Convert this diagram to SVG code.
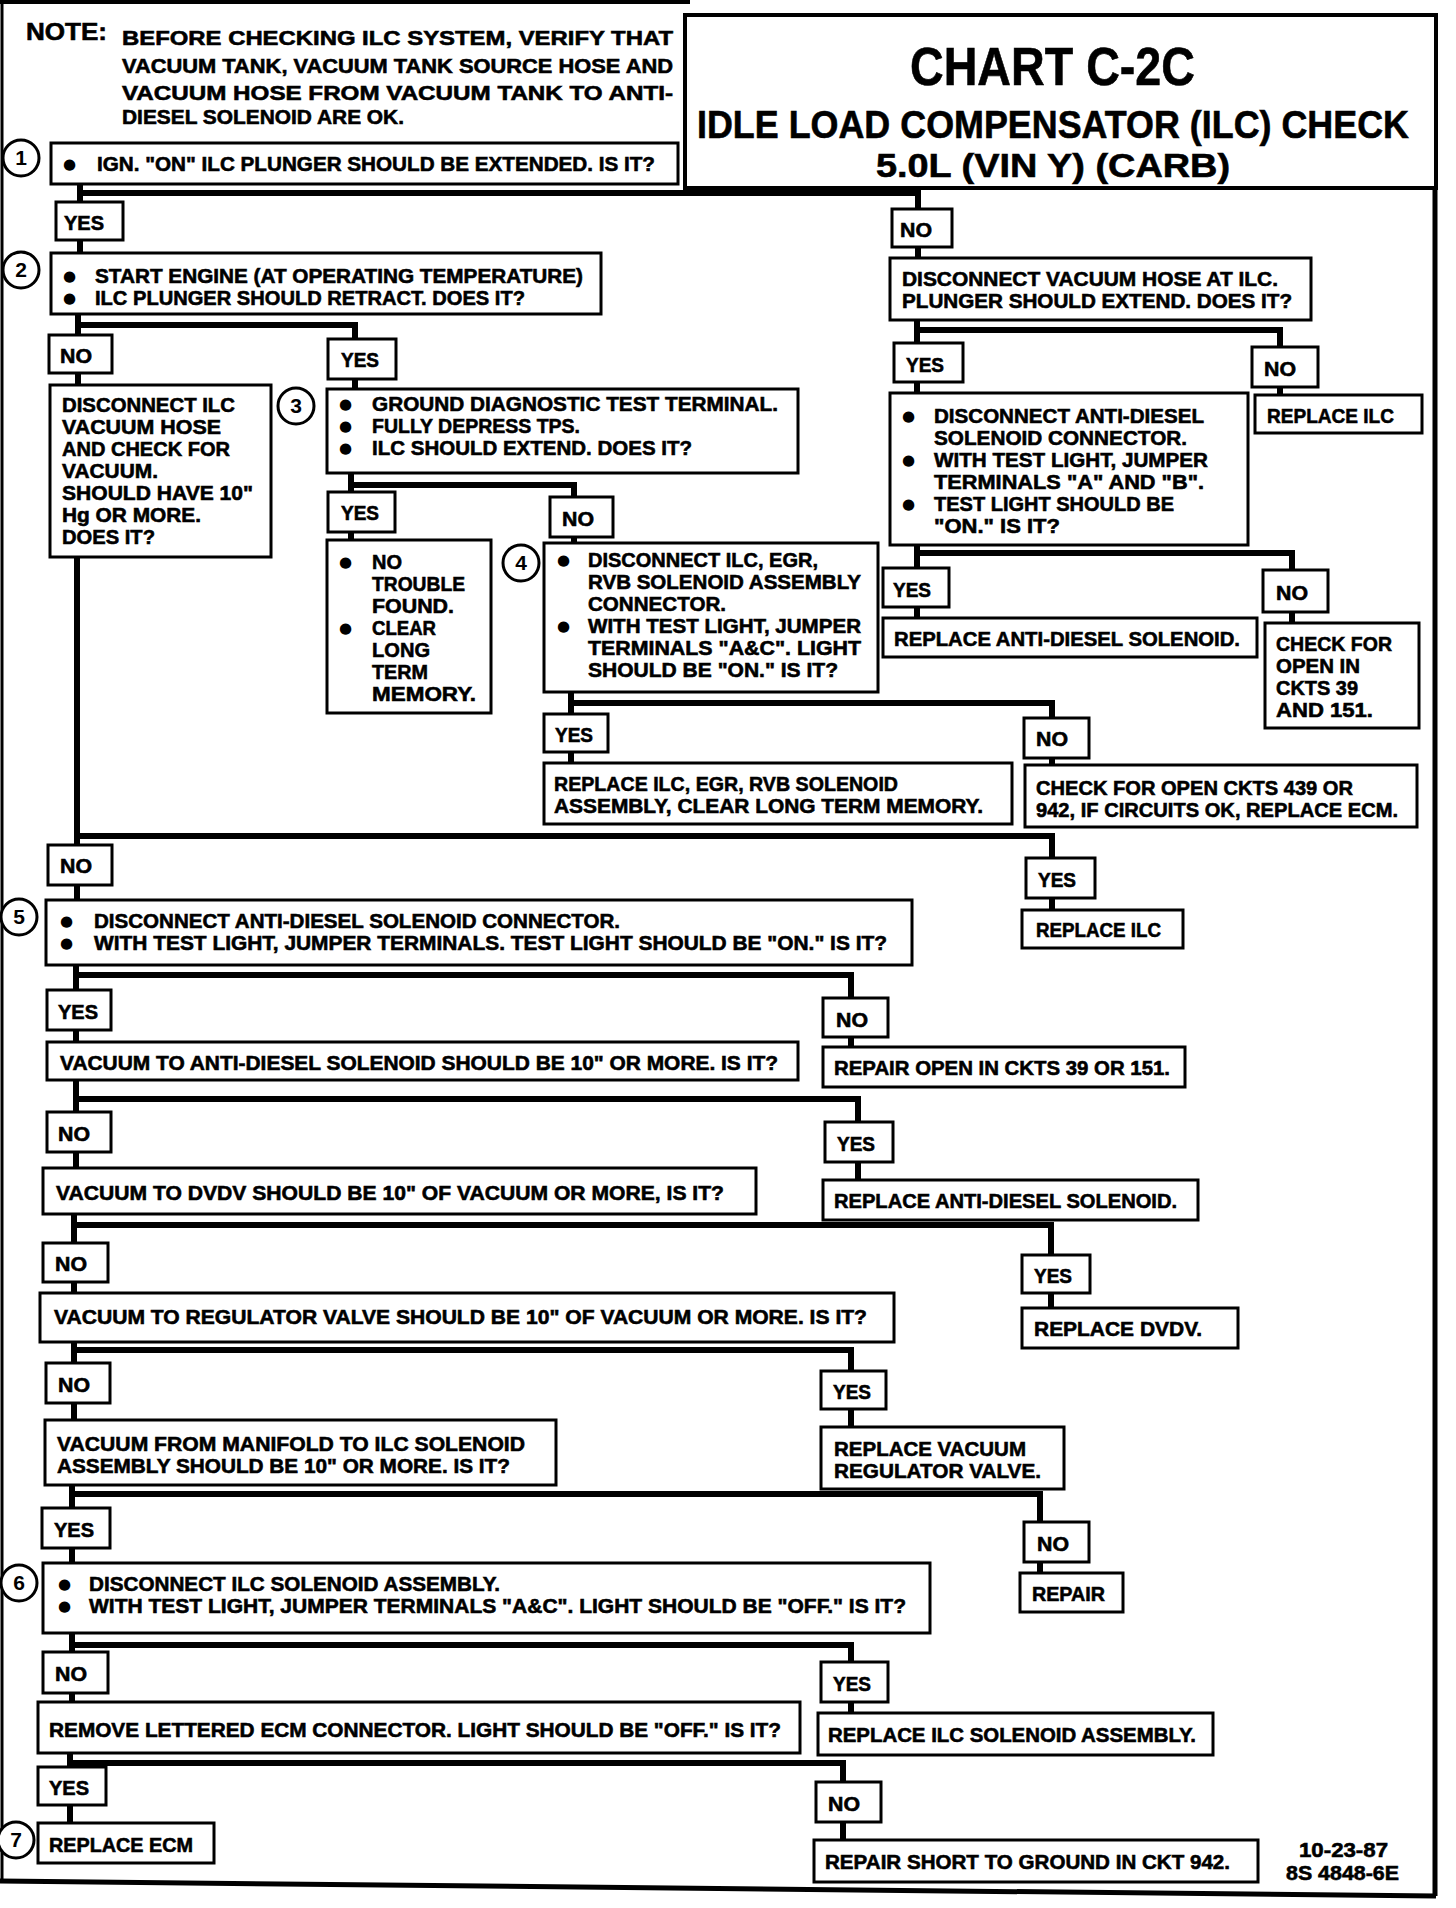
<svg xmlns="http://www.w3.org/2000/svg" width="1456" height="1908" viewBox="0 0 1456 1908">
<style>
.bg{fill:#fff}
.box{fill:#fff;stroke:#000;stroke-width:3}
.frame{fill:none;stroke:#000;stroke-width:4}
.c{fill:none;stroke:#000;stroke-width:6;stroke-linecap:square;stroke-linejoin:miter}
.circ{fill:#fff;stroke:#000;stroke-width:3}
.t{font-family:"Liberation Sans",Arial,sans-serif;font-weight:bold;font-size:21px;fill:#000;stroke:#000;stroke-width:0.6}
.b{font-family:"DejaVu Sans",sans-serif;font-size:15px;fill:#000}
.num{font-family:"Liberation Sans",Arial,sans-serif;font-weight:bold;font-size:21px;fill:#000;text-anchor:middle}
.note{font-family:"Liberation Sans",Arial,sans-serif;font-weight:bold;font-size:21px;fill:#000;stroke:#000;stroke-width:0.6}
.title{font-family:"Liberation Sans",Arial,sans-serif;font-weight:bold;fill:#000;stroke:#000;stroke-width:0.6}
</style>
<rect class="bg" x="0" y="0" width="1456" height="1908"/>

<g id="frame">
<path class="frame" d="M0 2 H690"/>
<path class="frame" d="M2 0 V1882" style="stroke-width:3"/>
<path class="frame" d="M1435 188 V1896" style="stroke-width:5"/>
<path class="frame" d="M0 1881 L1436 1896" style="stroke-width:5"/>
</g>

<g id="connectors">
<path class="c" d="M80 184 V254 M80 193 H918 V262"/>
<path class="c" d="M78 314 V385 M78 325 H355 V389"/>
<path class="c" d="M351 473 V540 M351 485 H574 V543"/>
<path class="c" d="M571 692 V763 M571 703 H1052 V765"/>
<path class="c" d="M917 320 V393 M917 330 H1280 V395"/>
<path class="c" d="M917 545 V618 M917 553 H1292 V623"/>
<path class="c" d="M77 557 V900 M77 836 H1052 V910"/>
<path class="c" d="M76 965 V1042 M76 975 H851 V1047"/>
<path class="c" d="M76 1080 V1168 M76 1099 H858 V1180"/>
<path class="c" d="M74 1214 V1293 M74 1225 H1051 V1308"/>
<path class="c" d="M74 1342 V1420 M74 1350 H851 V1427"/>
<path class="c" d="M72 1485 V1563 M72 1494 H1040 V1573"/>
<path class="c" d="M72 1633 V1702 M72 1645 H851 V1713"/>
<path class="c" d="M70 1753 V1823 M70 1763 H843 V1840"/>
</g>

<g id="note">
<text class="note" x="26" y="40" style="font-size:24px" textLength="81" lengthAdjust="spacingAndGlyphs">NOTE:</text>
<text class="note" x="122" y="45" textLength="551" lengthAdjust="spacingAndGlyphs">BEFORE CHECKING ILC SYSTEM, VERIFY THAT</text>
<text class="note" x="122" y="73" textLength="551" lengthAdjust="spacingAndGlyphs">VACUUM TANK, VACUUM TANK SOURCE HOSE AND</text>
<text class="note" x="122" y="100" textLength="551" lengthAdjust="spacingAndGlyphs">VACUUM HOSE FROM VACUUM TANK TO ANTI-</text>
<text class="note" x="122" y="124" textLength="282" lengthAdjust="spacingAndGlyphs">DIESEL SOLENOID ARE OK.</text>
</g>

<g id="title">
<rect class="box" x="685" y="15" width="751" height="173" style="stroke-width:4"/>
<text class="title" x="910" y="85" style="font-size:54px" textLength="285" lengthAdjust="spacingAndGlyphs">CHART C-2C</text>
<text class="title" x="697" y="138" style="font-size:38px" textLength="712" lengthAdjust="spacingAndGlyphs">IDLE LOAD COMPENSATOR (ILC) CHECK</text>
<text class="title" x="876" y="177" style="font-size:34px" textLength="354" lengthAdjust="spacingAndGlyphs">5.0L  (VIN Y)  (CARB)</text>
</g>

<g id="step1">
<circle class="circ" cx="21" cy="158" r="18"/><text class="num" x="21" y="165">1</text>
<rect class="box" x="51" y="143" width="627" height="41"/>
<text class="b" x="63" y="169">●</text>
<text class="t" x="97" y="171" textLength="558" lengthAdjust="spacingAndGlyphs">IGN. "ON" ILC PLUNGER SHOULD BE EXTENDED.  IS IT?</text>
</g>
<g id="yes1"><rect class="box" x="56" y="202" width="67" height="38"/><text class="t" x="64" y="230" textLength="40" lengthAdjust="spacingAndGlyphs">YES</text></g>
<g id="no1"><rect class="box" x="892" y="209" width="60" height="38"/><text class="t" x="900" y="237" textLength="32" lengthAdjust="spacingAndGlyphs">NO</text></g>

<g id="step2">
<circle class="circ" cx="21" cy="270" r="18"/><text class="num" x="21" y="277">2</text>
<rect class="box" x="51" y="253" width="550" height="61"/>
<text class="b" x="63" y="281">●</text>
<text class="b" x="63" y="303">●</text>
<text class="t" x="95" y="283" textLength="488" lengthAdjust="spacingAndGlyphs">START ENGINE (AT OPERATING TEMPERATURE)</text>
<text class="t" x="95" y="305" textLength="430" lengthAdjust="spacingAndGlyphs">ILC PLUNGER SHOULD RETRACT.  DOES IT?</text>
</g>
<g id="no2"><rect class="box" x="49" y="335" width="63" height="38"/><text class="t" x="60" y="363" textLength="32" lengthAdjust="spacingAndGlyphs">NO</text></g>
<g id="yes2"><rect class="box" x="328" y="339" width="68" height="40"/><text class="t" x="341" y="367" textLength="38" lengthAdjust="spacingAndGlyphs">YES</text></g>

<g id="vacuumHoseCheck">
<rect class="box" x="50" y="385" width="221" height="172"/>
<text class="t" x="62" y="412" textLength="173" lengthAdjust="spacingAndGlyphs">DISCONNECT ILC</text>
<text class="t" x="62" y="434" textLength="159" lengthAdjust="spacingAndGlyphs">VACUUM HOSE</text>
<text class="t" x="62" y="456" textLength="168" lengthAdjust="spacingAndGlyphs">AND CHECK FOR</text>
<text class="t" x="62" y="478" textLength="96" lengthAdjust="spacingAndGlyphs">VACUUM.</text>
<text class="t" x="62" y="500" textLength="191" lengthAdjust="spacingAndGlyphs">SHOULD HAVE 10"</text>
<text class="t" x="62" y="522" textLength="139" lengthAdjust="spacingAndGlyphs">Hg OR MORE.</text>
<text class="t" x="62" y="544" textLength="93" lengthAdjust="spacingAndGlyphs">DOES IT?</text>
</g>

<g id="step3">
<circle class="circ" cx="296" cy="406" r="18"/><text class="num" x="296" y="413">3</text>
<rect class="box" x="327" y="389" width="471" height="84"/>
<text class="b" x="339" y="409">●</text>
<text class="b" x="339" y="431">●</text>
<text class="b" x="339" y="453">●</text>
<text class="t" x="372" y="411" textLength="406" lengthAdjust="spacingAndGlyphs">GROUND DIAGNOSTIC TEST TERMINAL.</text>
<text class="t" x="372" y="433" textLength="208" lengthAdjust="spacingAndGlyphs">FULLY DEPRESS TPS.</text>
<text class="t" x="372" y="455" textLength="320" lengthAdjust="spacingAndGlyphs">ILC SHOULD EXTEND.  DOES IT?</text>
</g>
<g id="yes3"><rect class="box" x="328" y="492" width="67" height="40"/><text class="t" x="341" y="520" textLength="38" lengthAdjust="spacingAndGlyphs">YES</text></g>
<g id="no3"><rect class="box" x="550" y="497" width="63" height="40"/><text class="t" x="562" y="526" textLength="32" lengthAdjust="spacingAndGlyphs">NO</text></g>

<g id="noTrouble">
<rect class="box" x="327" y="540" width="164" height="173"/>
<text class="b" x="339" y="567">●</text>
<text class="b" x="339" y="633">●</text>
<text class="t" x="372" y="569" textLength="30" lengthAdjust="spacingAndGlyphs">NO</text>
<text class="t" x="372" y="591" textLength="93" lengthAdjust="spacingAndGlyphs">TROUBLE</text>
<text class="t" x="372" y="613" textLength="82" lengthAdjust="spacingAndGlyphs">FOUND.</text>
<text class="t" x="372" y="635" textLength="64" lengthAdjust="spacingAndGlyphs">CLEAR</text>
<text class="t" x="372" y="657" textLength="58" lengthAdjust="spacingAndGlyphs">LONG</text>
<text class="t" x="372" y="679" textLength="56" lengthAdjust="spacingAndGlyphs">TERM</text>
<text class="t" x="372" y="701" textLength="104" lengthAdjust="spacingAndGlyphs">MEMORY.</text>
</g>

<g id="step4">
<circle class="circ" cx="521" cy="563" r="18"/><text class="num" x="521" y="570">4</text>
<rect class="box" x="544" y="543" width="334" height="149"/>
<text class="b" x="557" y="565">●</text>
<text class="b" x="557" y="631">●</text>
<text class="t" x="588" y="567" textLength="230" lengthAdjust="spacingAndGlyphs">DISCONNECT ILC, EGR,</text>
<text class="t" x="588" y="589" textLength="273" lengthAdjust="spacingAndGlyphs">RVB SOLENOID ASSEMBLY</text>
<text class="t" x="588" y="611" textLength="138" lengthAdjust="spacingAndGlyphs">CONNECTOR.</text>
<text class="t" x="588" y="633" textLength="273" lengthAdjust="spacingAndGlyphs">WITH TEST LIGHT, JUMPER</text>
<text class="t" x="588" y="655" textLength="273" lengthAdjust="spacingAndGlyphs">TERMINALS "A&amp;C".  LIGHT</text>
<text class="t" x="588" y="677" textLength="250" lengthAdjust="spacingAndGlyphs">SHOULD BE "ON."  IS IT?</text>
</g>
<g id="yes4"><rect class="box" x="544" y="714" width="64" height="38"/><text class="t" x="555" y="742" textLength="38" lengthAdjust="spacingAndGlyphs">YES</text></g>
<g id="no4"><rect class="box" x="1024" y="718" width="65" height="40"/><text class="t" x="1036" y="746" textLength="32" lengthAdjust="spacingAndGlyphs">NO</text></g>

<g id="replaceIlcEgr">
<rect class="box" x="544" y="763" width="468" height="61"/>
<text class="t" x="554" y="791" textLength="344" lengthAdjust="spacingAndGlyphs">REPLACE ILC, EGR, RVB SOLENOID</text>
<text class="t" x="554" y="813" textLength="429" lengthAdjust="spacingAndGlyphs">ASSEMBLY, CLEAR LONG TERM MEMORY.</text>
</g>
<g id="checkCkts439">
<rect class="box" x="1025" y="765" width="392" height="62"/>
<text class="t" x="1036" y="795" textLength="317" lengthAdjust="spacingAndGlyphs">CHECK FOR OPEN CKTS 439 OR</text>
<text class="t" x="1036" y="817" textLength="362" lengthAdjust="spacingAndGlyphs">942, IF CIRCUITS OK, REPLACE ECM.</text>
</g>

<g id="disconnectHoseAtIlc">
<rect class="box" x="890" y="258" width="421" height="62"/>
<text class="t" x="902" y="286" textLength="376" lengthAdjust="spacingAndGlyphs">DISCONNECT VACUUM HOSE AT ILC.</text>
<text class="t" x="902" y="308" textLength="390" lengthAdjust="spacingAndGlyphs">PLUNGER SHOULD EXTEND.  DOES IT?</text>
</g>
<g id="yesR1"><rect class="box" x="894" y="343" width="69" height="39"/><text class="t" x="906" y="372" textLength="38" lengthAdjust="spacingAndGlyphs">YES</text></g>
<g id="noR1"><rect class="box" x="1252" y="347" width="66" height="40"/><text class="t" x="1264" y="376" textLength="32" lengthAdjust="spacingAndGlyphs">NO</text></g>
<g id="replaceIlcTop"><rect class="box" x="1255" y="395" width="167" height="38"/><text class="t" x="1267" y="423" textLength="127" lengthAdjust="spacingAndGlyphs">REPLACE ILC</text></g>

<g id="antiDieselTest">
<rect class="box" x="890" y="393" width="358" height="152"/>
<text class="b" x="902" y="421">●</text>
<text class="b" x="902" y="465">●</text>
<text class="b" x="902" y="509">●</text>
<text class="t" x="934" y="423" textLength="270" lengthAdjust="spacingAndGlyphs">DISCONNECT ANTI-DIESEL</text>
<text class="t" x="934" y="445" textLength="253" lengthAdjust="spacingAndGlyphs">SOLENOID CONNECTOR.</text>
<text class="t" x="934" y="467" textLength="274" lengthAdjust="spacingAndGlyphs">WITH TEST LIGHT, JUMPER</text>
<text class="t" x="934" y="489" textLength="270" lengthAdjust="spacingAndGlyphs">TERMINALS "A" AND "B".</text>
<text class="t" x="934" y="511" textLength="240" lengthAdjust="spacingAndGlyphs">TEST LIGHT SHOULD BE</text>
<text class="t" x="934" y="533" textLength="126" lengthAdjust="spacingAndGlyphs">"ON."  IS IT?</text>
</g>
<g id="yesR2"><rect class="box" x="883" y="568" width="66" height="39"/><text class="t" x="893" y="597" textLength="38" lengthAdjust="spacingAndGlyphs">YES</text></g>
<g id="noR2"><rect class="box" x="1263" y="570" width="65" height="42"/><text class="t" x="1276" y="600" textLength="32" lengthAdjust="spacingAndGlyphs">NO</text></g>
<g id="replaceAntiDieselTop"><rect class="box" x="883" y="618" width="374" height="39"/><text class="t" x="894" y="646" textLength="346" lengthAdjust="spacingAndGlyphs">REPLACE ANTI-DIESEL SOLENOID.</text></g>
<g id="checkCkts39">
<rect class="box" x="1265" y="623" width="154" height="105"/>
<text class="t" x="1276" y="651" textLength="116" lengthAdjust="spacingAndGlyphs">CHECK FOR</text>
<text class="t" x="1276" y="673" textLength="84" lengthAdjust="spacingAndGlyphs">OPEN IN</text>
<text class="t" x="1276" y="695" textLength="82" lengthAdjust="spacingAndGlyphs">CKTS 39</text>
<text class="t" x="1276" y="717" textLength="97" lengthAdjust="spacingAndGlyphs">AND 151.</text>
</g>

<g id="yes5"><rect class="box" x="1026" y="858" width="69" height="40"/><text class="t" x="1038" y="887" textLength="38" lengthAdjust="spacingAndGlyphs">YES</text></g>
<g id="replaceIlcLow"><rect class="box" x="1022" y="910" width="161" height="38"/><text class="t" x="1036" y="937" textLength="125" lengthAdjust="spacingAndGlyphs">REPLACE ILC</text></g>
<g id="no5"><rect class="box" x="48" y="845" width="64" height="40"/><text class="t" x="60" y="873" textLength="32" lengthAdjust="spacingAndGlyphs">NO</text></g>

<g id="step5">
<circle class="circ" cx="19" cy="917" r="18"/><text class="num" x="19" y="924">5</text>
<rect class="box" x="46" y="900" width="866" height="65"/>
<text class="b" x="60" y="926">●</text>
<text class="b" x="60" y="948">●</text>
<text class="t" x="94" y="928" textLength="526" lengthAdjust="spacingAndGlyphs">DISCONNECT ANTI-DIESEL SOLENOID CONNECTOR.</text>
<text class="t" x="94" y="950" textLength="793" lengthAdjust="spacingAndGlyphs">WITH TEST LIGHT, JUMPER TERMINALS.  TEST LIGHT SHOULD BE "ON."   IS IT?</text>
</g>
<g id="yes6"><rect class="box" x="47" y="990" width="64" height="40"/><text class="t" x="58" y="1019" textLength="40" lengthAdjust="spacingAndGlyphs">YES</text></g>
<g id="no6"><rect class="box" x="823" y="998" width="65" height="39"/><text class="t" x="836" y="1027" textLength="32" lengthAdjust="spacingAndGlyphs">NO</text></g>
<g id="repairOpen39"><rect class="box" x="823" y="1047" width="362" height="40"/><text class="t" x="834" y="1075" textLength="336" lengthAdjust="spacingAndGlyphs">REPAIR OPEN IN CKTS 39 OR 151.</text></g>
<g id="vacAntiDiesel"><rect class="box" x="47" y="1042" width="751" height="38"/><text class="t" x="60" y="1070" textLength="718" lengthAdjust="spacingAndGlyphs">VACUUM TO ANTI-DIESEL SOLENOID SHOULD BE 10" OR MORE.  IS IT?</text></g>

<g id="no7"><rect class="box" x="47" y="1112" width="64" height="40"/><text class="t" x="58" y="1141" textLength="32" lengthAdjust="spacingAndGlyphs">NO</text></g>
<g id="yes7"><rect class="box" x="825" y="1122" width="68" height="40"/><text class="t" x="837" y="1151" textLength="38" lengthAdjust="spacingAndGlyphs">YES</text></g>
<g id="replaceAntiDieselLow"><rect class="box" x="823" y="1180" width="375" height="40"/><text class="t" x="834" y="1208" textLength="343" lengthAdjust="spacingAndGlyphs">REPLACE ANTI-DIESEL SOLENOID.</text></g>
<g id="vacDvdv"><rect class="box" x="43" y="1168" width="713" height="46"/><text class="t" x="56" y="1200" textLength="668" lengthAdjust="spacingAndGlyphs">VACUUM TO DVDV SHOULD BE 10" OF VACUUM OR MORE, IS IT?</text></g>

<g id="no8"><rect class="box" x="43" y="1243" width="65" height="39"/><text class="t" x="55" y="1271" textLength="32" lengthAdjust="spacingAndGlyphs">NO</text></g>
<g id="yes8"><rect class="box" x="1022" y="1255" width="68" height="38"/><text class="t" x="1034" y="1283" textLength="38" lengthAdjust="spacingAndGlyphs">YES</text></g>
<g id="replaceDvdv"><rect class="box" x="1022" y="1308" width="216" height="40"/><text class="t" x="1034" y="1336" textLength="168" lengthAdjust="spacingAndGlyphs">REPLACE  DVDV.</text></g>
<g id="vacRegulator"><rect class="box" x="40" y="1293" width="854" height="49"/><text class="t" x="54" y="1324" textLength="813" lengthAdjust="spacingAndGlyphs">VACUUM TO REGULATOR VALVE SHOULD BE 10" OF VACUUM OR MORE.  IS IT?</text></g>

<g id="no9"><rect class="box" x="46" y="1363" width="64" height="40"/><text class="t" x="58" y="1392" textLength="32" lengthAdjust="spacingAndGlyphs">NO</text></g>
<g id="yes9"><rect class="box" x="821" y="1371" width="65" height="38"/><text class="t" x="833" y="1399" textLength="38" lengthAdjust="spacingAndGlyphs">YES</text></g>
<g id="replaceRegulator">
<rect class="box" x="821" y="1427" width="243" height="62"/>
<text class="t" x="834" y="1456" textLength="192" lengthAdjust="spacingAndGlyphs">REPLACE VACUUM</text>
<text class="t" x="834" y="1478" textLength="207" lengthAdjust="spacingAndGlyphs">REGULATOR VALVE.</text>
</g>
<g id="vacManifold">
<rect class="box" x="45" y="1420" width="511" height="65"/>
<text class="t" x="57" y="1451" textLength="468" lengthAdjust="spacingAndGlyphs">VACUUM FROM MANIFOLD TO ILC SOLENOID</text>
<text class="t" x="57" y="1473" textLength="453" lengthAdjust="spacingAndGlyphs">ASSEMBLY SHOULD BE 10" OR MORE.  IS IT?</text>
</g>

<g id="yes10"><rect class="box" x="42" y="1508" width="68" height="40"/><text class="t" x="54" y="1537" textLength="40" lengthAdjust="spacingAndGlyphs">YES</text></g>
<g id="no10"><rect class="box" x="1024" y="1522" width="65" height="40"/><text class="t" x="1037" y="1551" textLength="32" lengthAdjust="spacingAndGlyphs">NO</text></g>
<g id="repair"><rect class="box" x="1020" y="1573" width="103" height="39"/><text class="t" x="1032" y="1601" textLength="73" lengthAdjust="spacingAndGlyphs">REPAIR</text></g>

<g id="step6">
<circle class="circ" cx="19" cy="1583" r="18"/><text class="num" x="19" y="1590">6</text>
<rect class="box" x="43" y="1563" width="887" height="70"/>
<text class="b" x="58" y="1589">●</text>
<text class="b" x="58" y="1611">●</text>
<text class="t" x="89" y="1591" textLength="411" lengthAdjust="spacingAndGlyphs">DISCONNECT ILC SOLENOID ASSEMBLY.</text>
<text class="t" x="89" y="1613" textLength="817" lengthAdjust="spacingAndGlyphs">WITH TEST LIGHT, JUMPER TERMINALS "A&amp;C".  LIGHT SHOULD BE "OFF."  IS IT?</text>
</g>
<g id="no11"><rect class="box" x="43" y="1652" width="65" height="41"/><text class="t" x="55" y="1681" textLength="32" lengthAdjust="spacingAndGlyphs">NO</text></g>
<g id="yes11"><rect class="box" x="821" y="1662" width="67" height="40"/><text class="t" x="833" y="1691" textLength="38" lengthAdjust="spacingAndGlyphs">YES</text></g>
<g id="replaceIlcSolenoid"><rect class="box" x="818" y="1713" width="395" height="42"/><text class="t" x="828" y="1742" textLength="368" lengthAdjust="spacingAndGlyphs">REPLACE ILC SOLENOID ASSEMBLY.</text></g>
<g id="removeEcmConnector"><rect class="box" x="38" y="1702" width="762" height="51"/><text class="t" x="49" y="1737" textLength="732" lengthAdjust="spacingAndGlyphs">REMOVE LETTERED ECM CONNECTOR.  LIGHT SHOULD BE "OFF."  IS IT?</text></g>

<g id="yes12"><rect class="box" x="38" y="1767" width="68" height="38"/><text class="t" x="49" y="1795" textLength="40" lengthAdjust="spacingAndGlyphs">YES</text></g>
<g id="no12"><rect class="box" x="816" y="1782" width="65" height="40"/><text class="t" x="828" y="1811" textLength="32" lengthAdjust="spacingAndGlyphs">NO</text></g>
<g id="step7">
<circle class="circ" cx="16" cy="1840" r="18"/><text class="num" x="16" y="1847">7</text>
<rect class="box" x="38" y="1823" width="176" height="40"/>
<text class="t" x="49" y="1852" textLength="144" lengthAdjust="spacingAndGlyphs">REPLACE ECM</text>
</g>
<g id="repairShort"><rect class="box" x="814" y="1840" width="444" height="42"/><text class="t" x="825" y="1869" textLength="405" lengthAdjust="spacingAndGlyphs">REPAIR SHORT TO GROUND IN CKT 942.</text></g>

<g id="footnote">
<text class="t" x="1299" y="1857" textLength="89" lengthAdjust="spacingAndGlyphs">10-23-87</text>
<text class="t" x="1286" y="1880" textLength="113" lengthAdjust="spacingAndGlyphs">8S 4848-6E</text>
</g>
</svg>
